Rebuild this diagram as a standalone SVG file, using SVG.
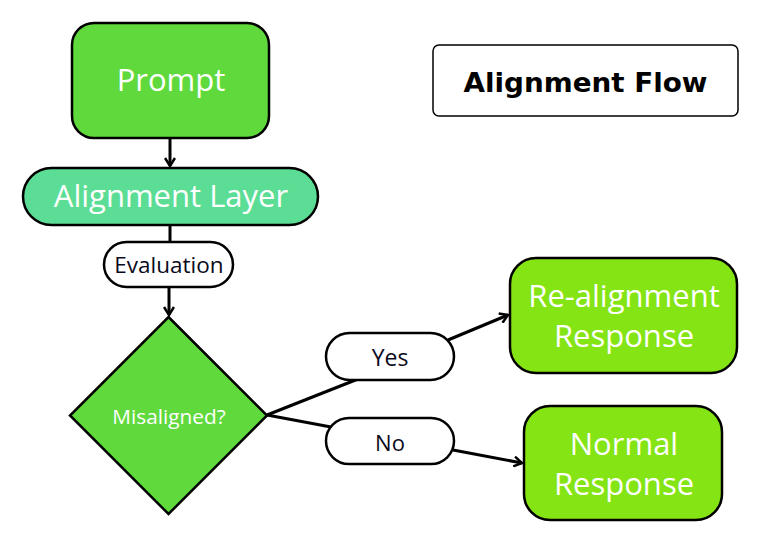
<svg xmlns="http://www.w3.org/2000/svg" width="767" height="551" viewBox="0 0 767 551">
<style>
.node{stroke:#000;stroke-width:2.5}
.g1{fill:#5fd93c}
.g2{fill:#5cdd95}
.g3{fill:#84e414}
.pill{fill:#fff;stroke:#000;stroke-width:2.5}
.wt{font-family:"Open Sans","Noto Sans",sans-serif;fill:#fff;text-anchor:middle}
.bt{font-family:"Open Sans","Noto Sans",sans-serif;fill:#0a0a1a;text-anchor:middle}
.conn{stroke:#000;stroke-width:3;fill:none}
</style>
<defs>
<marker id="arr" viewBox="0 0 12 12" refX="10" refY="6" markerWidth="12" markerHeight="12" markerUnits="userSpaceOnUse" orient="auto">
<path d="M2,1 L10,6 L2,11" fill="none" stroke="#000" stroke-width="2.5"/>
</marker>
</defs>
<rect width="767" height="551" fill="#fff"/>
<g id="connectors">
<line class="conn" x1="170" y1="138" x2="170" y2="166" marker-end="url(#arr)"/>
<line class="conn" x1="170" y1="225" x2="170" y2="242"/>
<line class="conn" x1="169" y1="287" x2="169" y2="315" marker-end="url(#arr)"/>
<line class="conn" x1="267" y1="415" x2="358" y2="379"/>
<line class="conn" x1="448" y1="340" x2="508" y2="315" marker-end="url(#arr)"/>
<line class="conn" x1="267" y1="415" x2="331" y2="427"/>
<line class="conn" x1="453" y1="450" x2="522" y2="463" marker-end="url(#arr)"/>
</g>
<g id="title">
<rect x="433" y="45" width="305" height="71" rx="6" fill="#fff" stroke="#000" stroke-width="1.5"/>
<text x="585.5" y="92" font-family="'DejaVu Sans',Verdana,sans-serif" font-weight="bold" font-size="27" text-anchor="middle" textLength="244" lengthAdjust="spacingAndGlyphs" fill="#000">Alignment Flow</text>
</g>
<g id="prompt">
<rect class="node g1" x="72" y="23" width="197" height="115" rx="22"/>
<text class="wt" x="171" y="91" font-size="31">Prompt</text>
</g>
<g id="alignment-layer">
<rect class="node g2" x="23" y="168" width="295" height="57" rx="28.5"/>
<text class="wt" x="171" y="207" font-size="31">Alignment Layer</text>
</g>
<g id="evaluation">
<rect class="pill" x="104" y="242" width="129" height="45" rx="22.5"/>
<text class="bt" x="169" y="273" font-size="22.5">Evaluation</text>
</g>
<g id="misaligned">
<polygon class="node g1" points="168.5,317 267,415.5 168.5,514 70,415.5"/>
<text class="wt" x="169" y="424" font-size="20.8">Misaligned?</text>
</g>
<g id="yes">
<rect class="pill" x="326" y="333" width="128" height="47" rx="23.5"/>
<text class="bt" x="390" y="366" font-size="23">Yes</text>
</g>
<g id="no">
<rect class="pill" x="326" y="418" width="128" height="46" rx="23"/>
<text class="bt" x="390" y="451" font-size="22">No</text>
</g>
<g id="re-alignment">
<rect class="node g3" x="510" y="258" width="227" height="115" rx="26"/>
<text class="wt" x="624" y="307" font-size="31">Re-alignment</text>
<text class="wt" x="624" y="347" font-size="31">Response</text>
</g>
<g id="normal">
<rect class="node g3" x="524" y="406" width="198" height="114" rx="26"/>
<text class="wt" x="624" y="455" font-size="31">Normal</text>
<text class="wt" x="624" y="495" font-size="31">Response</text>
</g>
</svg>
